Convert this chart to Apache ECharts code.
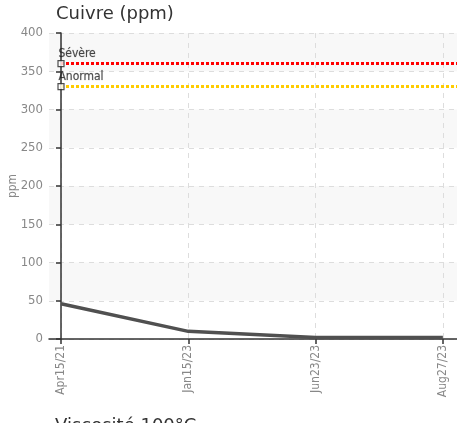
<!DOCTYPE html>
<html><head><meta charset="utf-8">
<script src="https://cdn.jsdelivr.net/npm/echarts@6/dist/echarts.min.js"></script>
<style>html,body{margin:0;padding:0;background:#fff;overflow:hidden}#c{width:457px;height:423px}</style>
</head><body><div id="c"></div>
<script>
var categories = ['Apr15/21', 'Jan15/23', 'Jun23/23', 'Aug27/23'];
var copperValues = [46, 10, 2, 2];
var thresholdNames = ['Sévère', 'Anormal'];
var thresholdValues = [360, 330];
var thresholdColors = ['#ff0000', '#ffcc00'];
var yTicks = [0, 50, 100, 150, 200, 250, 300, 350, 400];

var xMin = -0.0943, xMax = 3.111;
var idx = categories.map(function (c, i) { return i; });
var narrow = "'Liberation Sans Narrow', 'DejaVu Sans Condensed', sans-serif";

var series = [];
thresholdValues.forEach(function (v, i) {
  series.push({
    type: 'line', data: [[0, v], [xMax, v]], symbol: 'none', silent: true,
    lineStyle: { color: thresholdColors[i], width: 3, type: [3, 2] }, z: 3
  });
});
series.push({
  type: 'line', data: copperValues.map(function (v, i) { return [i, v]; }),
  symbol: 'none', lineStyle: { color: '#505050', width: 3.5 }, z: 4
});
series.push({
  type: 'scatter', symbol: 'rect', symbolSize: 6, z: 5,
  data: thresholdValues.map(function (v, i) { return { value: [0, v], name: thresholdNames[i] }; }),
  itemStyle: { color: '#fff', borderColor: '#222', borderWidth: 1.2 },
  label: { show: true, formatter: '{b}', position: [1, 0], align: 'left', verticalAlign: 'bottom',
    color: '#222', fontSize: 12, fontFamily: narrow, textBorderColor: 'rgba(0,0,0,0.25)', textBorderWidth: 0.7 }
});

var chart = echarts.init(document.getElementById('c'), null, { renderer: 'canvas' });
chart.setOption({
  animation: false,
  title: { text: 'Cuivre (ppm)', left: 51, top: 0,
    textStyle: { fontFamily: "'DejaVu Sans', Verdana, sans-serif", fontWeight: 'normal', fontSize: 18, color: '#333' } },
  grid: { left: 49, right: 0, top: 33, bottom: 84, containLabel: false, outerBoundsMode: 'none' },
  xAxis: {
    type: 'value', min: xMin, max: xMax,
    axisLine: { show: true, lineStyle: { color: '#333', width: 1.5 } },
    axisTick: { show: true, customValues: idx, length: 5, lineStyle: { color: '#333', width: 1.5 } },
    axisLabel: { customValues: idx, rotate: 90, formatter: function (v) { return categories[Math.round(v)]; },
      color: '#888', fontSize: 12, fontFamily: narrow, margin: 6 },
    splitLine: { show: true, lineStyle: { color: '#ddd', type: [5, 5], width: 1 } }
  },
  yAxis: {
    type: 'value', min: yTicks[0], max: yTicks[yTicks.length - 1], interval: 50,
    name: 'ppm', nameLocation: 'middle', nameGap: 30, nameRotate: 90, nameMoveOverlap: false,
    nameTextStyle: { color: '#888', fontSize: 12, fontFamily: narrow },
    axisLine: { show: true, lineStyle: { color: '#333', width: 1.5 } },
    axisTick: { show: true, length: 5, lineStyle: { color: '#333', width: 1.5 } },
    axisLabel: { color: '#888', fontSize: 13, fontFamily: narrow, margin: 6 },
    splitLine: { show: true, lineStyle: { color: '#ddd', type: [5, 5], width: 1 } },
    splitArea: { show: true, areaStyle: { color: ['rgba(255,255,255,0)', '#f8f8f8'] } }
  },
  series: series
});
</script>
<div style="position:absolute;left:55px;top:414px;font:18px 'DejaVu Sans',Verdana,sans-serif;color:#333;white-space:nowrap">Viscosité 100°C</div>
</body></html>
